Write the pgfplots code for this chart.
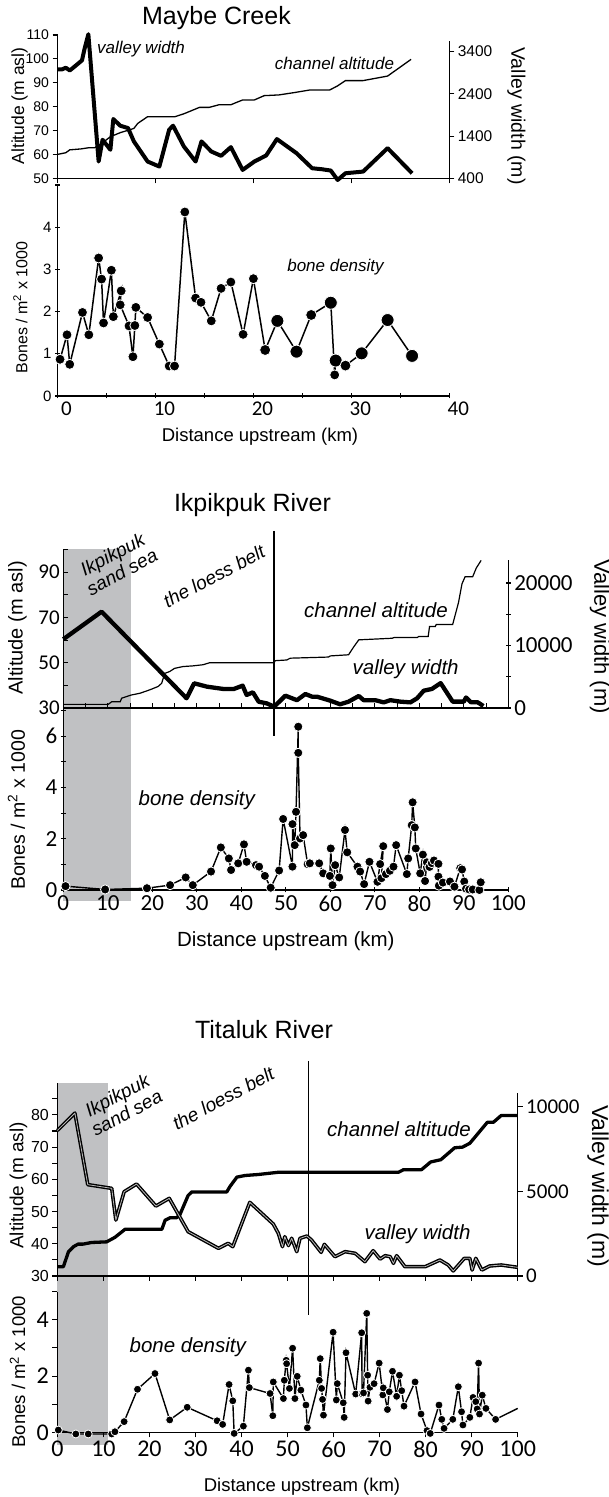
\documentclass[border=0pt]{standalone}
\usepackage{fontspec}
\usepackage{pgfplots}
\usepackage{pgfplotstable}
\pgfplotsset{compat=1.18}
\setmainfont{Liberation Sans}
\newfontfamily\calfont{Carlito}
\newcommand\fs[1]{\fontsize{#1pt}{#1pt}\selectfont}
\definecolor{sandgrey}{RGB}{192,193,195}

% ---------------- Maybe Creek ----------------
\pgfplotstableread{
km alt
0 60
0.85 60.7
1.25 61.9
2.4 62.3
3.2 62.8
3.8 62.8
4.6 64.9
5.4 67.4
6.4 69.1
7.6 70.6
7.8 70.9
8.2 73.0
9.2 75.8
12.0 75.8
12.9 77.0
14.5 79.7
15.5 79.7
16.5 80.8
17.7 80.8
18.9 82.8
20.1 82.8
21.1 84.6
22.6 84.9
24.2 85.9
25.8 87.0
27.8 87.0
28.6 88.7
29.4 90.9
31.2 90.9
33.7 92.8
36.1 99.8
}\mcAlt
\pgfplotstableread{
km w
0 2979
0.45 2979
0.85 3019
1.25 2955
1.6 3019
2.5 3194
2.75 3455
3.15 3813
4.2 797
4.6 1313
5.4 1075
5.7 1805
6.4 1646
7.2 1590
7.8 1273
9.2 797
10.4 678
11.4 1551
11.8 1646
12.9 1154
14.1 797
14.7 1273
15.7 1035
16.7 932
17.7 1138
18.9 598
20.1 797
21.3 940
22.4 1329
24.4 995
26.0 638
27.0 614
27.9 583
28.6 360
29.4 519
31.2 559
33.7 1114
36.2 519
}\mcWidth
\pgfplotstableread{
km b r
0.26 0.87 5
0.97 1.45 5
1.25 0.75 5
2.55 1.98 5
3.2 1.45 5
4.2 3.27 5
4.5 2.77 5
4.7 1.73 5
5.5 2.98 5
5.7 1.88 5
6.5 2.49 5
6.4 2.16 5
7.3 1.66 5
7.7 0.93 5
7.9 1.67 5
8.0 2.10 5
9.2 1.86 5
10.4 1.23 5
11.4 0.71 5
11.95 0.71 5
13.0 4.36 5
14.1 2.32 5
14.65 2.22 5
15.7 1.78 5
16.7 2.55 5
17.7 2.70 5
18.95 1.46 5
20.0 2.78 5
21.2 1.09 5.5
22.45 1.78 6.5
24.4 1.05 6.5
25.9 1.92 5.5
27.9 2.21 6.5
28.3 0.50 5
28.4 0.84 6.5
29.4 0.72 5.5
31.05 1.01 6.5
33.7 1.80 6.5
36.2 0.95 6.5
}\mcBones

% ---------------- Ikpikpuk River ----------------
\pgfplotstableread{
km alt
0 31.6
10.1 31.6
10.9 32.8
12.8 32.8
13.1 34.3
15.2 35.7
17.2 36.5
18.7 37.5
19.8 38.3
21.3 39.5
22.1 40.9
22.8 45.3
23.9 46.1
25.0 47.5
26.9 48.3
29.1 48.6
31.4 49.1
32.9 50.0
47.4 50.0
47.6 50.9
50.2 51.2
51.0 52.0
59.6 52.5
60.0 53.0
64.1 53.5
65.3 57.1
66.4 60.1
73.9 60.8
74.3 61.1
79.5 61.1
79.9 61.6
82.0 61.6
82.3 66.0
83.6 66.0
83.8 66.9
87.5 66.9
88.8 76.5
89.6 84.9
90.3 88.0
92.0 88.0
92.8 91.8
93.9 95.2
}\ikAlt
\pgfplotstableread{
km w
0 11000
8.6 15410
27.7 1550
29.4 3950
32.3 3410
36.0 3040
38.3 3040
40.3 3570
41.2 2080
42.6 2510
43.9 1010
45.7 740
47.4 210
49.9 1970
52.5 1250
54.4 2240
55.9 1810
57.0 1810
60.0 1170
62.2 590
64.1 1010
66.4 1920
67.5 1250
70.1 1250
72.0 900
73.5 1250
75.8 1010
78.0 900
79.5 1550
81.0 2770
82.8 3040
84.8 3980
87.5 1020
90.0 1020
90.5 1680
91.6 920
93.1 920
94.4 310
}\ikWidth
\pgfplotstableread{
km b
0.5 0.15
9.4 0.02
18.8 0.07
24.0 0.19
27.5 0.49
29.1 0.19
33.2 0.72
35.4 1.66
37.2 1.23
37.7 0.78
39.3 1.04
40.6 1.78
41.2 1.10
43.3 0.97
44.0 0.91
45.3 0.55
46.6 0.09
48.5 0.76
49.4 2.77
51.5 0.91
51.5 2.57
52.0 1.75
52.3 3.05
52.8 6.37
52.8 5.35
53.2 2.01
53.9 2.14
54.9 1.01
55.4 1.04
57.5 1.04
58.4 0.65
59.9 0.55
60.1 1.62
60.5 0.19
61.1 0.97
62.0 0.49
63.3 2.34
63.8 1.47
66.1 0.91
66.7 0.72
67.6 0.23
68.8 1.10
70.6 0.32
71.2 1.01
71.9 1.71
71.5 0.46
72.5 0.62
73.4 0.75
74.2 0.91
74.8 1.75
77.2 0.62
77.5 1.23
78.3 2.53
78.5 3.42
79.0 2.44
79.2 1.62
80.2 0.65
80.8 1.38
81.3 0.35
81.7 1.08
82.3 0.90
82.8 1.05
83.3 1.15
84.3 1.02
84.3 0.52
84.4 0.17
85.3 0.29
86.9 0.33
87.9 0.13
89.2 0.85
89.6 0.80
90.1 0.33
90.5 0.05
91.2 0.02
92.0 0.02
93.5 0.00
93.8 0.30
}\ikBones

% ---------------- Titaluk River ----------------
\pgfplotstableread{
km alt
0 32.9
1.3 32.9
2.4 37.5
3.5 39.1
4.5 39.9
5.6 39.9
7.4 40.4
10.7 40.6
12.5 42.0
14.7 44.5
22.7 44.5
23.4 47.3
24.5 48.1
25.9 48.1
26.6 49.0
28.4 55.0
29.2 56.1
36.8 56.1
37.5 57.8
39.0 60.7
40.8 61.2
43.6 61.5
48.0 62.2
74.1 62.2
75.2 63.0
79.1 63.0
81.1 65.4
83.3 66.1
84.6 67.7
86.3 69.8
88.0 70.0
89.6 71.2
93.4 77.7
94.7 77.7
96.4 79.8
100 79.8
}\tiAlt
\pgfplotstableread{
km w
0 8600
3.8 9630
6.6 5400
11.8 5181
12.7 3309
14.5 4982
17.2 5435
21.4 4136
24.3 4589
28.4 2619
35.0 1634
37.1 1930
38.1 1733
41.8 4352
46.9 3072
48.0 2521
48.9 1733
49.4 2324
50.2 1800
50.9 2230
52.0 1438
52.7 2225
54.2 2363
55.2 2127
57.3 1398
58.0 1871
60.3 1142
62.5 1438
64.7 1339
66.8 847
68.6 1497
70.1 1000
71.2 1200
72.3 1142
73.0 749
73.7 1200
75.5 551
79.9 551
83.1 945
84.9 650
86.0 300
88.4 1044
89.6 1044
90.1 354
90.9 1044
92.2 354
93.9 591
96.4 650
100 512
}\tiWidth
\pgfplotstableread{
km b
0.2 0.08
4.0 -0.06
6.7 -0.06
11.8 -0.06
12.5 0.02
14.5 0.38
17.4 1.53
21.2 2.09
24.4 0.44
28.2 0.89
34.7 0.41
35.9 0.28
37.3 1.70
38.1 1.12
38.4 -0.04
40.4 0.22
41.5 2.21
41.7 1.59
46.2 1.38
46.8 0.59
46.9 1.79
49.1 1.20
49.3 1.85
49.7 2.56
49.8 2.44
50.4 1.56
51.1 2.99
51.6 1.20
52.1 1.99
52.9 1.50
54.0 0.97
54.3 0.16
56.9 1.85
57.1 2.62
57.4 1.56
57.6 1.17
57.8 0.61
59.9 3.56
60.6 1.15
60.8 1.73
62.1 1.05
62.3 0.53
62.7 2.83
64.8 1.36
66.1 3.54
66.2 1.37
66.5 1.40
67.2 4.23
67.4 2.03
67.5 1.11
67.9 1.60
68.8 1.73
69.9 2.46
70.7 1.33
70.8 1.58
71.7 0.81
72.1 1.44
72.8 2.17
73.7 1.28
74.3 2.03
74.8 1.48
75.3 0.93
77.7 1.79
79.0 0.65
80.3 0.06
81.0 -0.04
82.9 0.97
83.5 0.46
84.0 0.14
85.9 0.46
87.1 1.62
87.8 0.73
88.1 0.26
89.6 0.53
90.3 1.24
90.9 1.09
91.2 0.83
91.5 2.46
91.7 0.65
92.3 1.32
93.1 0.85
95.2 0.46
}\tiBones
\pgfplotstableread{
km b
95.2 0.46
100 0.85
}\tiBonesEnd

\pgfplotsset{
  panel/.style={scale only axis, clip=false, anchor=south west,
    /pgf/number format/assume math mode=true,
    /pgf/number format/1000 sep={},
    scaled ticks=false,
    axis line style={black, line width=1.2pt, -},
    tick style={black, line width=1.1pt},
    major tick length=5pt, minor tick length=5pt},
  leftbox/.style={panel, axis x line*=bottom, axis y line*=left},
  rightbox/.style={panel, axis x line=none, axis y line*=right},
  bonemark/.style={mark=*, mark options={fill=black, draw=white, line width=0.8pt}},
}

\begin{document}
\begin{tikzpicture}[x=1pt,y=1pt]
\useasboundingbox (0,0) rectangle (609,1497);

% ======== Maybe Creek ========
\begin{axis}[leftbox, at={(57.5pt,1318.7pt)},
  width=391.8pt, height=143.3pt, xmin=0, xmax=40, ymin=50, ymax=110,
  xtick={0,10,...,40}, xticklabels={}, ytick={50,60,...,110},
  tick align=outside, yticklabel style={font=\fs{14}}]
\addplot[black, line width=1.3pt] table[x=km,y=alt] \mcAlt;
\end{axis}
\begin{axis}[rightbox, at={(57.5pt,1318.7pt)},
  width=391.8pt, height=137.3pt, xmin=0, xmax=40, ymin=400, ymax=3653,
  ytick={400,1400,2400,3400}, tick align=outside,
  yticklabel style={font=\fs{15.5}}]
\addplot[black, line width=4pt, line join=round] table[x=km,y=w] \mcWidth;
\end{axis}
\begin{axis}[leftbox, at={(57.5pt,1101pt)},
  width=391.8pt, height=211pt, xmin=0, xmax=40, ymin=0, ymax=5,
  xtick={0,10,...,40}, minor xtick={5,15,...,35}, ytick={0,...,4}, minor ytick={5},
  tick align=center,
  xticklabel style={font=\calfont\fs{21}, xshift=9pt},
  yticklabel style={font=\fs{15}}]
\addplot[black, line width=1.5pt, mark=*, scatter,
  scatter/use mapped color={draw=white, fill=black},
  mark options={line width=0.8pt},
  visualization depends on={\thisrow{r}\as\rad},
  scatter/@pre marker code/.append style={/tikz/mark size=\rad}]
  table[x=km,y=b] \mcBones;
\end{axis}
\node[font=\fs{25}] at (216.5,1479) {Maybe Creek};
\node[font=\fs{17.5}, rotate=90] at (19.5,1391) {Altitude (m asl)};
\node[font=\fs{19.5}, rotate=-90] at (516.5,1381) {Valley width (m)};
\node[font=\itshape\fs{17}] at (141,1448) {valley width};
\node[font=\itshape\fs{17}] at (334.5,1434) {channel altitude};
\node[font=\fs{16}, rotate=90] at (20.4,1189.5) {Bones / m\textsuperscript{2} x 1000};
\node[font=\itshape\fs{17}] at (335.5,1230) {bone density};
\node[font=\fs{18.5}] at (260,1060) {Distance upstream (km)};

% ======== Ikpikpuk River ========
\begin{axis}[leftbox, axis on top, at={(63.3pt,789pt)},
  width=445pt, height=158.5pt, xmin=0, xmax=100, ymin=30, ymax=100,
  xtick={0,5,...,100}, xticklabels={}, ytick={30,50,70,90}, minor ytick={40,60,80,100},
  tick align=inside, yticklabel style={font=\calfont\fs{21}}]
\fill[sandgrey] (axis cs:0,-55.1) rectangle (axis cs:15.2,100);
\addplot[black, line width=1.2pt] table[x=km,y=alt] \ikAlt;
\draw[black, line width=1.8pt] (axis cs:47.4,108.2) -- (axis cs:47.4,17.6);
\end{axis}
\begin{axis}[rightbox, at={(63.3pt,789pt)},
  width=445pt, height=148pt, xmin=0, xmax=100, ymin=0, ymax=23680,
  ytick={0,10000,20000}, minor ytick={5000,15000}, tick align=center,
  yticklabel style={font=\calfont\fs{23}}]
\addplot[black, line width=4.3pt, line join=round] table[x=km,y=w] \ikWidth;
\end{axis}
\begin{axis}[leftbox, at={(63.3pt,607pt)},
  width=445pt, height=182pt, xmin=0, xmax=100, ymin=0, ymax=7.1,
  xtick={0,10,...,100}, ytick={0,2,4,6}, minor ytick={1,3,5,7},
  tick align=center,
  xticklabel style={font=\calfont\fs{23}}, yticklabel style={font=\calfont\fs{23}}]
\addplot[black, line width=1.4pt, bonemark, mark size=4.6pt] table[x=km,y=b] \ikBones;
\end{axis}
\node[font=\fs{25}] at (252.5,992) {Ikpikpuk River};
\node[font=\fs{20}, rotate=90] at (17.5,869) {Altitude (m asl)};
\node[font=\fs{22}, rotate=-90] at (600,860.5) {Valley width (m)};
\node[font=\itshape\fontsize{19pt}{20pt}\selectfont, rotate=28, align=center] at (117.2,933.7) {Ikpikpuk\\sand sea};
\node[font=\itshape\fs{19}, rotate=28] at (214,921) {the loess belt};
\node[font=\itshape\fs{20.5}] at (376,887) {channel altitude};
\node[font=\itshape\fs{20.5}] at (405.7,828) {valley width};
\node[font=\fs{19.5}, rotate=90] at (16.5,687) {Bones / m\textsuperscript{2} x 1000};
\node[font=\itshape\fs{20.5}] at (196.8,697) {bone density};
\node[font=\fs{20.5}] at (285.8,556) {Distance upstream (km)};

% ======== Titaluk River ========
\begin{axis}[leftbox, axis on top, at={(57.4pt,221pt)},
  width=460.3pt, height=193.3pt, xmin=0, xmax=100, ymin=30, ymax=90,
  xtick={0,10,...,100}, xticklabels={}, ytick={30,40,...,80}, minor ytick={35,45,...,85},
  tick align=outside, yticklabel style={font=\fs{16}}]
\fill[sandgrey] (axis cs:0,-22.5) rectangle (axis cs:10.95,90);
\addplot[black, line width=3.3pt, line join=round] table[x=km,y=alt] \tiAlt;
\draw[black, line width=1.5pt] (axis cs:54.5,96.8) -- (axis cs:54.5,17.9);
\end{axis}
\begin{axis}[rightbox, at={(57.4pt,221pt)},
  width=460.3pt, height=182.7pt, xmin=0, xmax=100, ymin=0, ymax=10800,
  ytick={0,5000,10000}, tick align=outside,
  yticklabel style={font=\calfont\fs{21}}]
\addplot[black, line width=1.4pt, double=gray!55, double distance=0.8pt, line join=round] table[x=km,y=w] \tiWidth;
\end{axis}
\begin{axis}[leftbox, at={(57.4pt,64.7pt)},
  width=460.3pt, height=140.6pt, xmin=0, xmax=100, ymin=0, ymax=5,
  xtick={0,10,...,100}, ytick={0,2,4}, minor ytick={1,3,5},
  tick align=outside,
  xticklabel style={font=\calfont\fs{24}}, yticklabel style={font=\calfont\fs{24}}]
\addplot[black, line width=1.4pt] table[x=km,y=b] \tiBonesEnd;
\addplot[black, line width=1.4pt, bonemark, mark size=4pt] table[x=km,y=b] \tiBones;
\end{axis}
\node[font=\fs{25}] at (264,467) {Titaluk River};
\node[font=\fs{19}, rotate=90] at (18.5,311.5) {Altitude (m asl)};
\node[font=\fs{23}, rotate=-90] at (598,311) {Valley width (m)};
\node[font=\itshape\fontsize{19pt}{20pt}\selectfont, rotate=28, align=center] at (122,393) {Ikpikpuk\\sand sea};
\node[font=\itshape\fs{19}, rotate=28] at (223.3,398.7) {the loess belt};
\node[font=\itshape\fs{20.5}] at (399,368) {channel altitude};
\node[font=\itshape\fs{20.5}] at (417.5,263) {valley width};
\node[font=\fs{18.5}, rotate=90] at (17.5,125.3) {Bones / m\textsuperscript{2} x 1000};
\node[font=\itshape\fs{20.5}] at (187.8,150) {bone density};
\node[font=\fs{18.5}] at (302,10.3) {Distance upstream (km)};
\end{tikzpicture}
\end{document}
